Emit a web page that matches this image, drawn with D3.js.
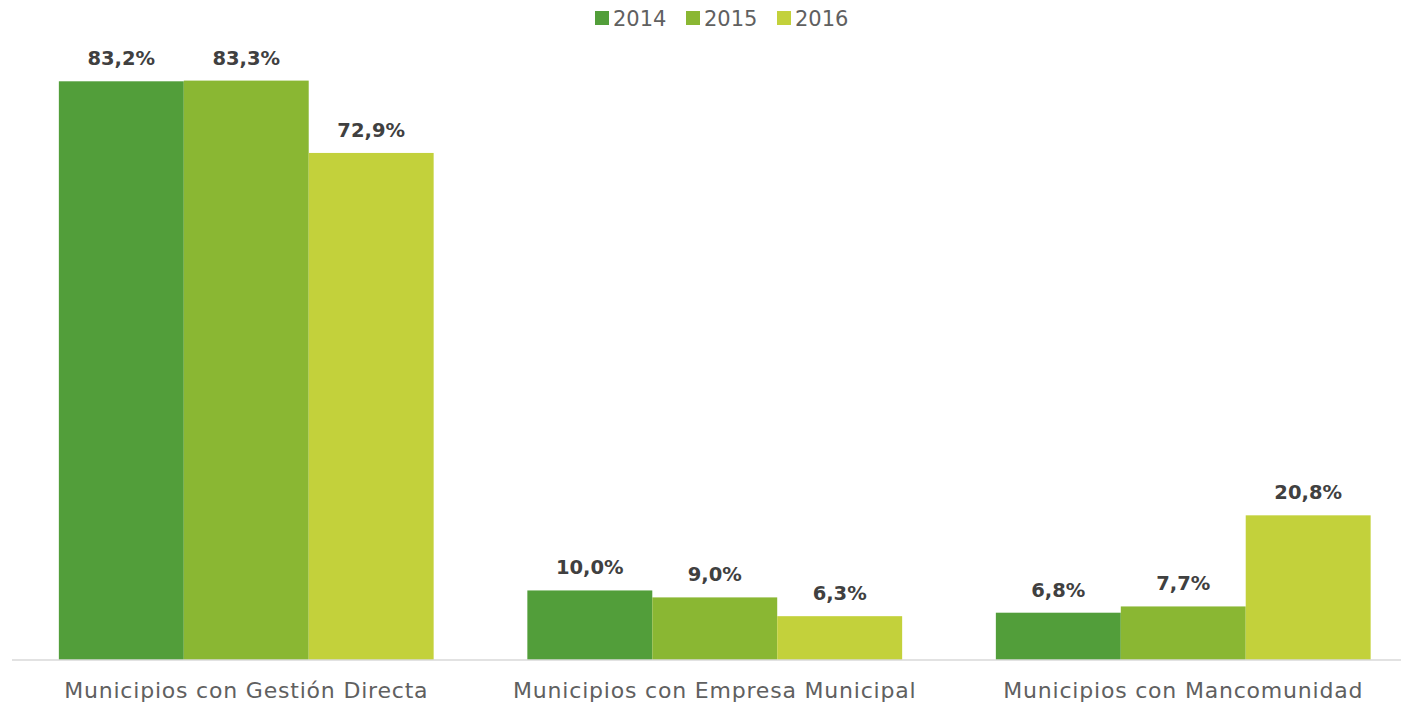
<!DOCTYPE html>
<html>
<head>
<meta charset="utf-8">
<script src="https://cdn.jsdelivr.net/npm/d3@7/dist/d3.min.js"></script>
<style>
  html, body { margin: 0; padding: 0; background: #fff; }
  svg { display: block; }
  text { font-family: "DejaVu Sans", sans-serif; }
</style>
</head>
<body>
<svg id="chart" width="1401" height="705"></svg>
<script>
// Share of municipalities by management model, per year (%)
const categories = ["Municipios con Gestión Directa", "Municipios con Empresa Municipal", "Municipios con Mancomunidad"];
const years = ["2014", "2015", "2016"];
const values2014 = [83.2, 10.0, 6.8];
const values2015 = [83.3, 9.0, 7.7];
const values2016 = [72.9, 6.3, 20.8];
const colors = ["#529e3a", "#8ab733", "#c3d13b"];

const series = [values2014, values2015, values2016];
const svg = d3.select("#chart");

const x0 = d3.scaleBand().domain(categories).range([12, 1417.5]).paddingInner(0.2).paddingOuter(0.1);
const x1 = d3.scaleBand().domain(years).range([0, x0.bandwidth()]);
const y = d3.scaleLinear().domain([0, 90]).range([660, 34]);
const fmt = v => v.toFixed(1).replace(".", ",") + "%";

const groups = svg.selectAll("g.group").data(categories).enter().append("g")
  .attr("class", "group")
  .attr("transform", d => `translate(${x0(d)},0)`);

groups.each(function(cat, ci) {
  const g = d3.select(this);
  years.forEach((yr, si) => {
    const v = series[si][ci];
    g.append("rect")
      .attr("x", x1(yr))
      .attr("y", y(v))
      .attr("width", x1.bandwidth())
      .attr("height", y(0) - y(v))
      .attr("fill", colors[si]);
    g.append("text")
      .attr("x", x1(yr) + x1.bandwidth() / 2)
      .attr("y", y(v) - 16)
      .attr("text-anchor", "middle")
      .attr("font-size", 19.5)
      .attr("font-weight", "bold")
      .attr("fill", "#404040")
      .text(fmt(v));
  });
});

// category axis
const xAxis = svg.append("g").attr("transform", "translate(0,660)")
  .call(d3.axisBottom(x0).tickSize(0).tickPadding(22));
xAxis.select(".domain").attr("stroke", "#d9d9d9").attr("stroke-width", 1.5)
  .attr("d", "M12,0H1401");
xAxis.selectAll("text").attr("font-size", 22).attr("fill", "#606060")
  .attr("letter-spacing", 0.8)
  .attr("font-family", "'DejaVu Sans', sans-serif");

// legend
const legendX = [595, 686, 777];
const legend = svg.append("g");
years.forEach((yr, i) => {
  legend.append("rect").attr("x", legendX[i]).attr("y", 11).attr("width", 14).attr("height", 14).attr("fill", colors[i]);
  legend.append("text").attr("x", legendX[i] + 18).attr("y", 26)
    .attr("font-size", 21).attr("fill", "#606060").text(yr);
});
</script>
</body>
</html>
